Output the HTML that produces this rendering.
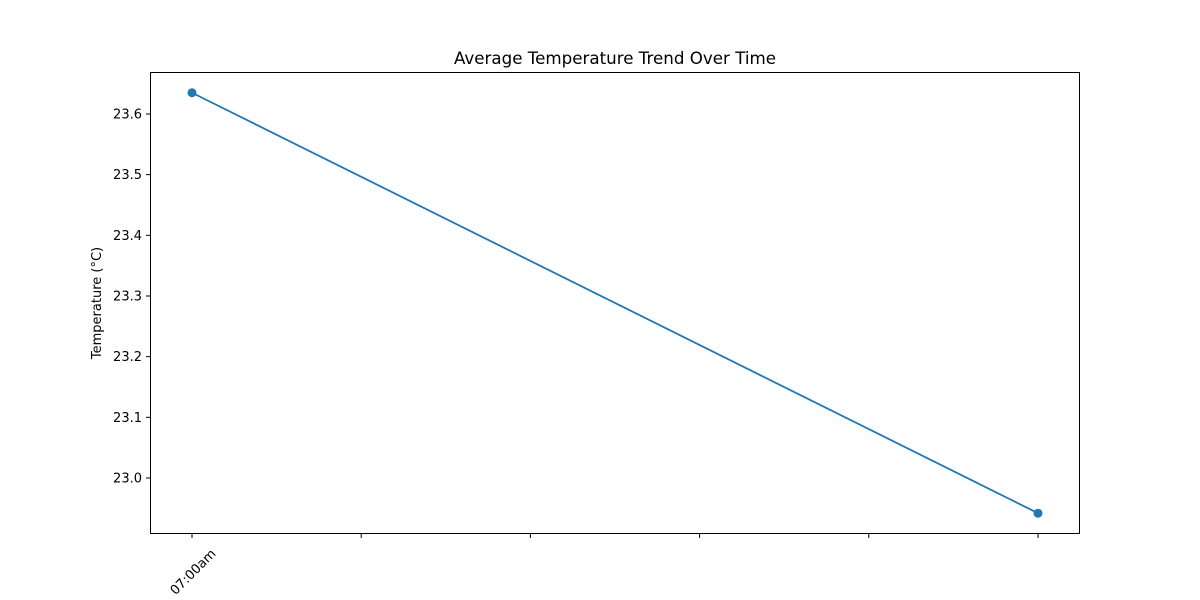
<!DOCTYPE html>
<html><head><meta charset="utf-8"><style>
body{margin:0;background:#fff;}
svg{display:block;font-family:"DejaVu Sans","Liberation Sans",sans-serif;}
</style></head><body>
<svg id="chart" width="1200" height="600">
<rect x="0" y="0" width="1200" height="600" fill="#fff"/>
<text x="615" y="64" text-anchor="middle" font-size="16.7">Average Temperature Trend Over Time</text>
<text transform="translate(101,303) rotate(-90)" text-anchor="middle" font-size="13">Temperature (°C)</text>
<g id="plot"></g>
<rect x="150.5" y="72.5" width="929" height="461" fill="none" stroke="#000" stroke-width="1"/>
</svg>
<script>
const categories = ["07:00am", "", "", "", "", ""];
const xIndices = [0, 5];
const temps = [23.635, 22.942];
const yTicks = [23.0, 23.1, 23.2, 23.3, 23.4, 23.5, 23.6];

const NS = "http://www.w3.org/2000/svg";
const g = document.getElementById("plot");
const x0 = 192, x1 = 1038;
function xs(i){ return x0 + (x1 - x0) * i / (categories.length - 1); }
function ys(v){ return 478 - (v - 23.0) * 606.7; }
function mk(tag, attrs){ const e = document.createElementNS(NS, tag); for (const k in attrs) e.setAttribute(k, attrs[k]); g.appendChild(e); return e; }

yTicks.forEach(t => {
  const y = ys(t);
  const tk = mk("line", {x1:146, x2:150, y1:y, y2:y, stroke:"#000"});
  
  
  const lb = mk("text", {x:142, y:y+4.5, "text-anchor":"end", "font-size":"13"});
  lb.textContent = t.toFixed(1);
  
  
});
categories.forEach((c, i) => {
  const x = xs(i);
  const tk = mk("line", {x1:x, x2:x, y1:534, y2:538, stroke:"#000"});
  
  
  if (c) {
    const lb = mk("text", {transform:`translate(${x+4},${575}) rotate(-45)`, "text-anchor":"middle", "font-size":"13"});
    lb.textContent = c;
    
    
  }
});
const pts = xIndices.map((xi, k) => xs(xi) + "," + ys(temps[k])).join(" ");
const line = mk("polyline", {points:pts, fill:"none", stroke:"#1f77b4", "stroke-width":"1.8"});


xIndices.forEach((xi, k) => {
  const c = mk("circle", {cx:xs(xi), cy:ys(temps[k]), r:4.5, fill:"#1f77b4"});
  
  
});
</script>
</body></html>
